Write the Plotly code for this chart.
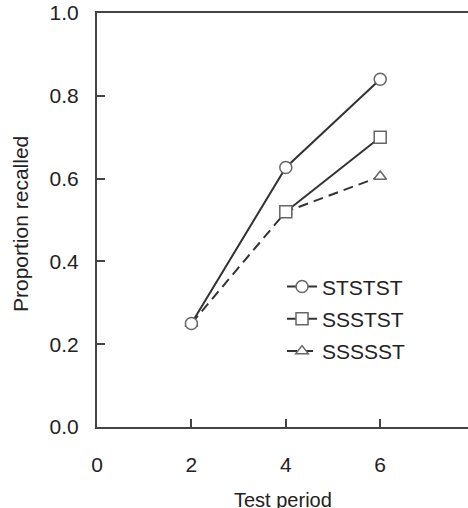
import plotly.graph_objects as go

test_period = [2, 4, 6]
series_names = ["STSTST", "SSSTST", "SSSSST"]
ststst = [0.25, 0.627, 0.84]
ssstst = [None, 0.52, 0.70]
ssssst = [0.25, 0.52, 0.605]

x_ticks = [0, 2, 4, 6]
y_ticks = [0.0, 0.2, 0.4, 0.6, 0.8, 1.0]
y_tick_text = ["0.0", "0.2", "0.4", "0.6", "0.8", "1.0"]

FONT = "Liberation Sans, Arial, sans-serif"
LINE_C = "#333333"
MARK_C = "#666666"
TEXT_C = "#222222"
FS = 21

fig = go.Figure()
styles = {
    "STSTST": ("circle", "solid", 12),
    "SSSTST": ("square", "solid", 12),
    "SSSSST": ("triangle-up", "10px,6px", 11),
}
series = dict(zip(series_names, [ststst, ssstst, ssssst]))
# draw order: dashed first, so later markers cover it
for name in reversed(series_names):
    sym, dash, sz = styles[name]
    fig.add_trace(go.Scatter(
        x=test_period, y=series[name], name=name, mode="lines+markers",
        legendgroup=name, legendrank=series_names.index(name) + 1, connectgaps=False,
        line=dict(color=LINE_C, width=2, dash=dash),
        marker=dict(symbol=sym, size=sz, color="white",
                    line=dict(color=MARK_C, width=1.5)),
    ))

fig.update_layout(
    width=468, height=508,
    margin=dict(l=97, r=0, t=13, b=81),
    paper_bgcolor="white", plot_bgcolor="white",
    font=dict(family=FONT, size=FS, color=TEXT_C),
    showlegend=True,
    legend=dict(x=0.4987, y=0.388, xanchor="left", yanchor="top",
                bgcolor="rgba(0,0,0,0)", font=dict(size=FS, color=TEXT_C),
                itemwidth=30, tracegroupgap=2),
    xaxis=dict(range=[0, 7.86], tickvals=x_ticks, ticktext=[str(v) for v in x_ticks],
               ticks="inside", ticklen=8, tickwidth=2, tickcolor="#444",
               showline=True, linecolor="#444", linewidth=2, mirror=True,
               showgrid=False, zeroline=False, ticklabelstandoff=18, automargin=False,
               tickfont=dict(size=FS, color=TEXT_C)),
    yaxis=dict(range=[0, 1.0], tickvals=y_ticks, ticktext=y_tick_text,
               ticks="inside", ticklen=8, tickwidth=2, tickcolor="#444",
               showline=True, linecolor="#444", linewidth=2, mirror=False,
               showgrid=False, zeroline=False, ticklabelstandoff=12, automargin=False,
               ticklabeloverflow="allow",
               tickfont=dict(size=FS, color=TEXT_C)),
    annotations=[
        dict(text="Test period", xref="paper", yref="paper", x=(283 - 97) / 371, y=-(500 - 427) / 414,
             xanchor="center", yanchor="middle", showarrow=False, font=dict(size=20, color=TEXT_C)),
        dict(text="Proportion recalled", xref="paper", yref="paper", x=-(97 - 20) / 371, y=(427 - 224) / 414,
             xanchor="center", yanchor="middle", textangle=-90, showarrow=False, font=dict(size=FS, color=TEXT_C)),
    ],
)

# remove the browser's default 8px page margin so the figure fills the window exactly
fig.write_html("out.html", config={"displayModeBar": False},
               post_script="document.body.style.margin='0';")
